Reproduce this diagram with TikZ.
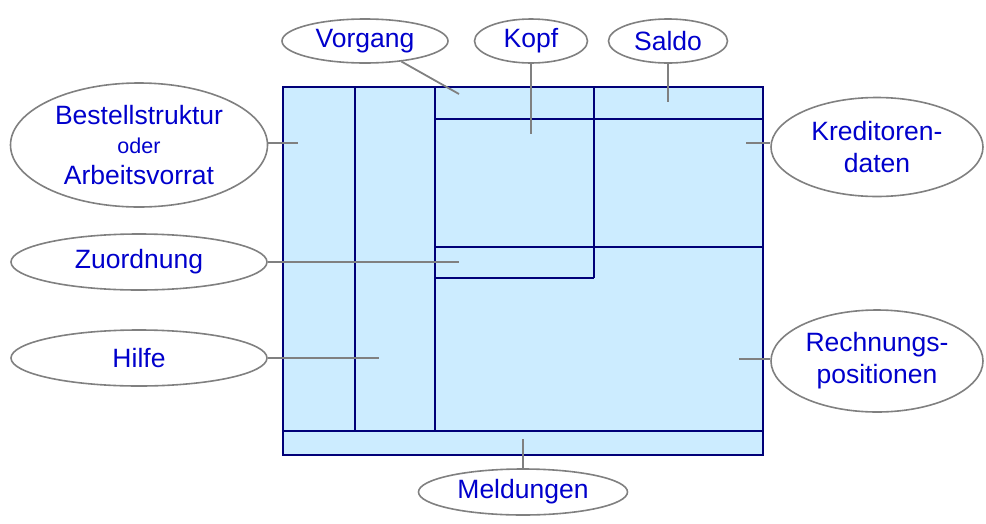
\documentclass[tikz,border=0pt]{standalone}
\usepackage{fontspec}
\setmainfont{Liberation Sans}
\usetikzlibrary{shapes.geometric}
\definecolor{panelfill}{RGB}{204,236,255}
\definecolor{panelline}{RGB}{0,0,120}
\definecolor{labeltext}{RGB}{0,0,204}
\definecolor{connline}{RGB}{128,128,128}
\tikzset{
  label ellipse/.style={ellipse, draw=connline, line width=1.6pt, fill=white, inner sep=0pt,
    text=labeltext, align=center, font=\fontsize{26.5}{32}\selectfont},
  panel/.style={draw=panelline, line width=2pt},
  conn/.style={draw=connline, line width=1.8pt}
}
\begin{document}
\begin{tikzpicture}[x=1pt,y=-1pt]
\useasboundingbox (0,0) rectangle (986,523);
% main panel
\fill[panelfill] (283,87) rectangle (763,455);
\draw[panel] (355,87) -- (355,431);
\draw[panel] (435,87) -- (435,431);
\draw[panel] (283,431) -- (763,431);
\draw[panel] (435,119) -- (763,119);
\draw[panel] (594,87) -- (594,278);
\draw[panel] (435,247) -- (763,247);
\draw[panel] (435,278) -- (594,278);
\draw[panel] (283,87) rectangle (763,455);
% free ends of connectors
\coordinate (cvorgang) at (459,94);
\coordinate (ckopf) at (531,134);
\coordinate (csaldo) at (668,102);
\coordinate (cbestell) at (298,143);
\coordinate (czuord) at (459,262);
\coordinate (chilfe) at (379,358);
\coordinate (ckred) at (746,143);
\coordinate (crechn) at (739,359);
\coordinate (cmeld) at (523,439);
% label ellipses
\node[label ellipse, minimum width=166pt, minimum height=44pt] (vorgang) at (365,41) {Vorgang};
\node[label ellipse, minimum width=113pt, minimum height=44pt] (kopf) at (531,41) {Kopf};
\node[label ellipse, minimum width=119pt, minimum height=44pt] (saldo) at (668,41) {Saldo};
\node[label ellipse, minimum width=257pt, minimum height=124pt] (bestell) at (139,145)
  {Bestellstruktur\\[-3pt]{\fontsize{21.5}{25}\selectfont oder}\\[-1pt]Arbeitsvorrat};
\node[label ellipse, minimum width=256pt, minimum height=56pt] (zuord) at (139,262) {Zuordnung};
\node[label ellipse, minimum width=256pt, minimum height=56pt] (hilfe) at (139,358) {Hilfe};
\node[label ellipse, minimum width=212pt, minimum height=99pt] (kred) at (877,147) {Kreditoren-\\daten};
\node[label ellipse, minimum width=212pt, minimum height=102pt] (rechn) at (877,361) {Rechnungs-\\positionen};
\node[label ellipse, minimum width=209pt, minimum height=46pt] (meld) at (523,492) {Meldungen};
% connectors
\draw[conn] (vorgang) -- (cvorgang);
\draw[conn] (kopf) -- (ckopf);
\draw[conn] (saldo) -- (csaldo);
\draw[conn] (bestell.east |- cbestell) -- (cbestell);
\draw[conn] (zuord.east) -- (czuord);
\draw[conn] (hilfe.east) -- (chilfe);
\draw[conn] (kred.west |- ckred) -- (ckred);
\draw[conn] (rechn.west |- crechn) -- (crechn);
\draw[conn] (meld) -- (cmeld);
\end{tikzpicture}
\end{document}
